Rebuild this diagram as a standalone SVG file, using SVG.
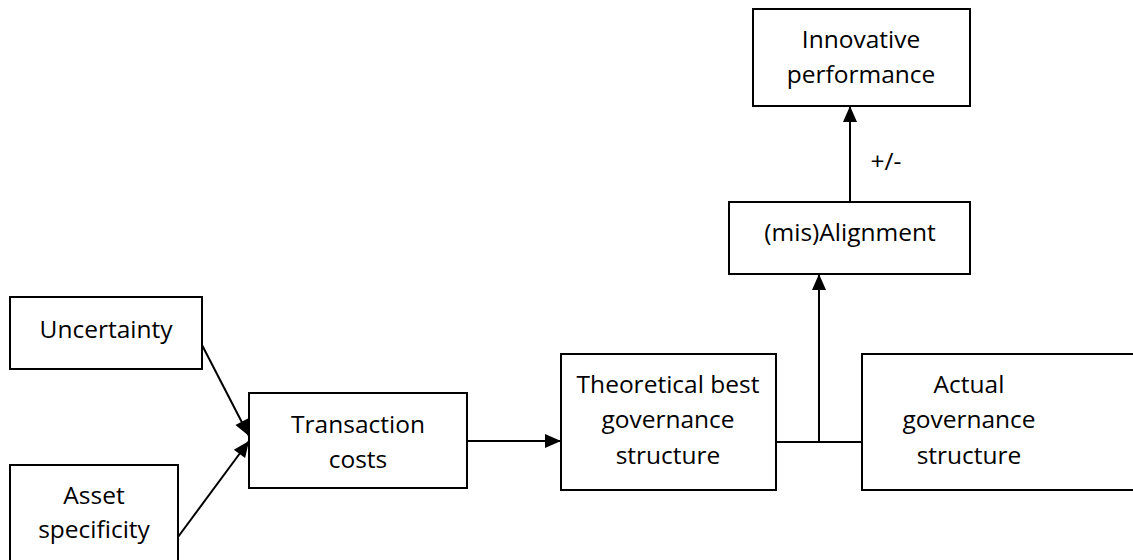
<svg xmlns="http://www.w3.org/2000/svg" width="1133" height="560" viewBox="0 0 1133 560">
<style>
.box{fill:#fff;stroke:#000;stroke-width:2}
.t{font-family:"Open Sans","Liberation Sans",sans-serif;font-size:24.5px;fill:#000;text-anchor:middle}
.c{fill:none;stroke:#000;stroke-width:2}
</style>
<defs>
<marker id="ah" markerUnits="userSpaceOnUse" markerWidth="18" markerHeight="18" viewBox="0 0 18 18" refX="17" refY="9" orient="auto">
<path d="M1,2 L17,9 L1,16 Z" fill="#000"/>
</marker>
</defs>
<rect width="1133" height="560" fill="#fff"/>
<g id="connectors">
<line class="c" x1="202" y1="345" x2="249" y2="436" marker-end="url(#ah)"/>
<line class="c" x1="178" y1="537" x2="249" y2="441" marker-end="url(#ah)"/>
<line class="c" x1="467" y1="441" x2="561" y2="441" marker-end="url(#ah)"/>
<line class="c" x1="776" y1="442" x2="862" y2="442"/>
<line class="c" x1="819" y1="442" x2="819" y2="274" marker-end="url(#ah)"/>
<line class="c" x1="850" y1="202" x2="850" y2="106" marker-end="url(#ah)"/>
<text class="t" x="886" y="170">+/-</text>
</g>
<g id="uncertainty">
<rect class="box" x="10" y="297" width="192" height="72"/>
<text class="t" x="106" y="338">Uncertainty</text>
</g>
<g id="asset-specificity">
<rect class="box" x="10" y="465" width="168" height="120"/>
<text class="t" x="94" y="504">Asset</text>
<text class="t" x="94" y="538">specificity</text>
</g>
<g id="transaction-costs">
<rect class="box" x="249" y="393" width="218" height="95"/>
<text class="t" x="358" y="433">Transaction</text>
<text class="t" x="358" y="468">costs</text>
</g>
<g id="theoretical">
<rect class="box" x="561" y="354" width="215" height="136"/>
<text class="t" x="668" y="393">Theoretical best</text>
<text class="t" x="668" y="428">governance</text>
<text class="t" x="668" y="464">structure</text>
</g>
<g id="actual">
<rect class="box" x="862" y="354" width="290" height="136"/>
<text class="t" x="969" y="393">Actual</text>
<text class="t" x="969" y="428">governance</text>
<text class="t" x="969" y="464">structure</text>
</g>
<g id="alignment">
<rect class="box" x="729" y="202" width="241" height="72"/>
<text class="t" x="850" y="241">(mis)Alignment</text>
</g>
<g id="innovative">
<rect class="box" x="753" y="9" width="217" height="97"/>
<text class="t" x="861" y="48">Innovative</text>
<text class="t" x="861" y="83">performance</text>
</g>
</svg>
